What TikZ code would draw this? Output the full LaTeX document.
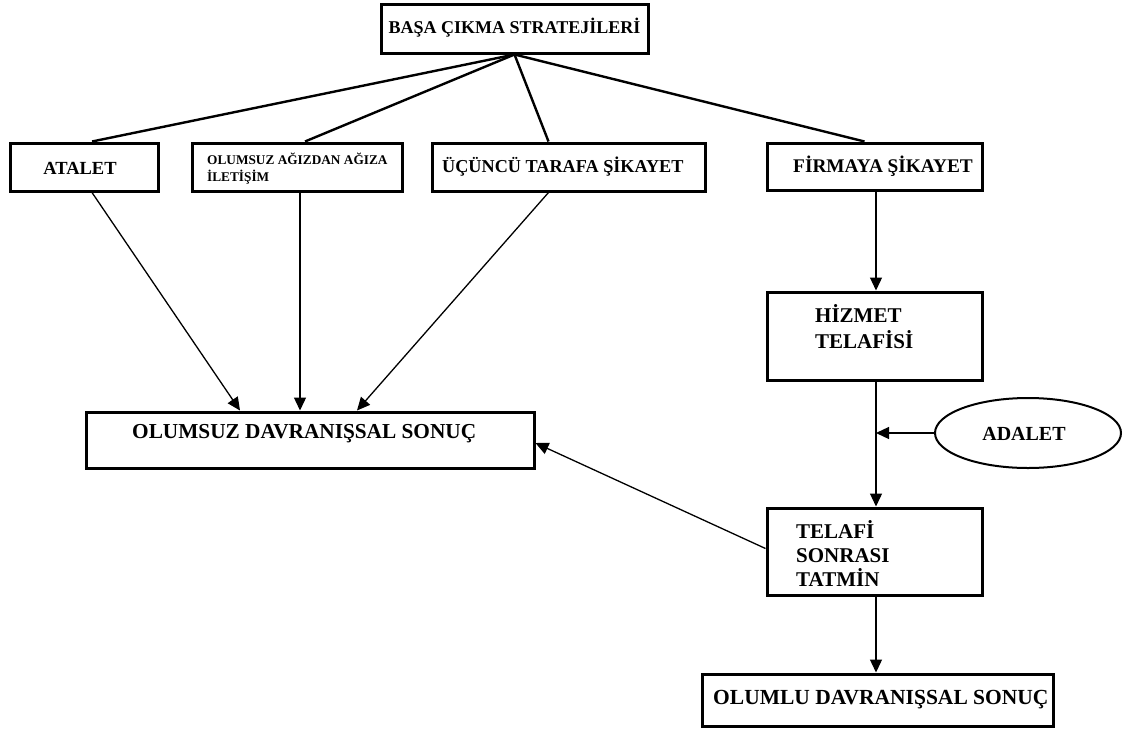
\documentclass[tikz,border=0pt]{standalone}
\usepackage{fontspec}
\setmainfont{Liberation Serif}
\usetikzlibrary{arrows.meta,shapes.geometric}
\begin{document}
\begin{tikzpicture}[x=1pt,y=-1pt,
  box/.style={draw, line width=3pt, rectangle, inner sep=0pt},
  oval/.style={draw, line width=2pt, ellipse, inner sep=0pt},
  conn/.style={line width=1.3pt},
  arr/.style={conn, -{Triangle[length=13pt,width=12pt]}},
  branch/.style={line width=2.4pt},
  lbl/.style={font=\bfseries, inner sep=0pt, align=left},
  fs/.style={font=\bfseries\fontsize{#1}{#1}\selectfont}
]
\useasboundingbox[fill=white] (0,0) rectangle (1124,729);

% boxes
\node[box, minimum width=267pt, minimum height=49pt] (top) at (514.5,28.5) {};
\node[box, minimum width=148pt, minimum height=48pt] (atalet) at (84,167) {};
\node[box, minimum width=210pt, minimum height=48pt] (agiz) at (297,167) {};
\node[box, minimum width=273pt, minimum height=48pt] (ucuncu) at (568.5,167) {};
\node[box, minimum width=215pt, minimum height=47pt] (firma) at (874.5,166.5) {};
\node[box, minimum width=215pt, minimum height=88pt] (hizmet) at (874.5,336) {};
\node[box, minimum width=215pt, minimum height=87pt] (telafi) at (874.5,551.5) {};
\node[box, minimum width=448pt, minimum height=56pt] (olumsuz) at (310,440) {};
\node[box, minimum width=351pt, minimum height=52pt] (olumlu) at (877.5,700) {};
\node[oval, minimum width=186pt, minimum height=70pt] (adalet) at (1028,433) {};

% texts
\node[lbl, fs=18] (ttop) at (514.5,28) {BAŞA ÇIKMA STRATEJİLERİ};
\node[lbl, fs=18.5] (tatalet) at (80,168) {ATALET};
\node[lbl, anchor=west, font=\bfseries\fontsize{13.3}{17}\selectfont] (tagiz) at (207,169) {OLUMSUZ AĞIZDAN AĞIZA\\İLETİŞİM};
\node[lbl, anchor=west, fs=18.2] (tucuncu) at (442,167) {ÜÇÜNCÜ TARAFA ŞİKAYET};
\node[lbl, anchor=west, fs=19.3] (tfirma) at (793,166) {FİRMAYA ŞİKAYET};
\node[lbl, anchor=west, font=\bfseries\fontsize{21}{26}\selectfont] (thizmet) at (815,327) {HİZMET\\TELAFİSİ};
\node[lbl, fs=20] (tadalet) at (1024,434) {ADALET};
\node[lbl, anchor=west, font=\bfseries\fontsize{21}{24}\selectfont] (ttelafi) at (796,553) {TELAFİ\\SONRASI\\TATMİN};
\node[lbl, anchor=west, fs=21.3] (tolumsuz) at (132,434) {OLUMSUZ DAVRANIŞSAL SONUÇ};
\node[lbl, anchor=west, fs=21.5] (tolumlu) at (713,700) {OLUMLU DAVRANIŞSAL SONUÇ};

% branches from the strategies box
\draw[branch] (top.south) -- ([xshift=8pt]atalet.north);
\draw[branch] (top.south) -- ([xshift=8pt]agiz.north);
\draw[branch] (top.south) -- ([xshift=-20pt]ucuncu.north);
\draw[branch] (top.south) -- ([xshift=-10pt]firma.north);

% arrows to the negative outcome
\draw[arr] ([xshift=8pt]atalet.south) -- ([xshift=-70pt]olumsuz.north);
\draw[arr] ([xshift=3pt]agiz.south) -- ([xshift=-10pt]olumsuz.north);
\draw[arr] ([xshift=-20pt]ucuncu.south) -- ([xshift=47pt]olumsuz.north);

% recovery chain
\draw[arr] ([xshift=1.5pt]firma.south) -- ([xshift=1.5pt]hizmet.north);
\draw[arr] ([xshift=1.5pt]hizmet.south) -- ([xshift=1.5pt]telafi.north);
\coordinate (join) at ([xshift=1.5pt]hizmet.south |- adalet.west);
\draw[arr] (adalet.west) -- (join);
\draw[arr] ([xshift=1.5pt]telafi.south) -- ([xshift=-1.5pt]olumlu.north);
\draw[arr] ([yshift=3pt]telafi.west) -- ([yshift=-3pt]olumsuz.east);
\end{tikzpicture}
\end{document}
